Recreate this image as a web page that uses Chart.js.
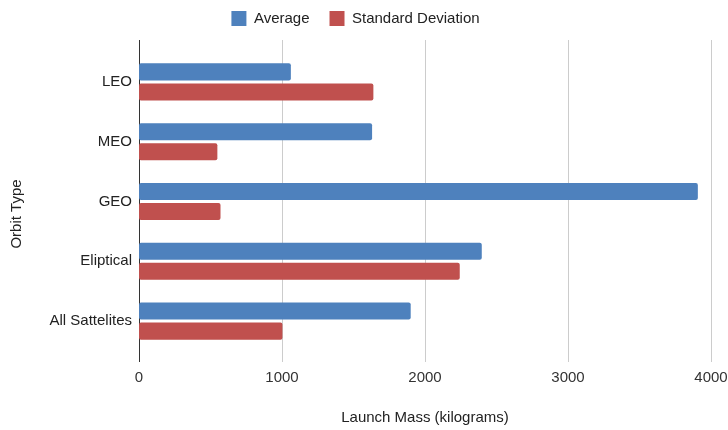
<!DOCTYPE html>
<html>
<head>
<meta charset="utf-8">
<script src="https://cdn.jsdelivr.net/npm/chart.js@4/dist/chart.umd.min.js"></script>
<style>
  html, body { margin: 0; padding: 0; background: #ffffff; }
  #wrap { width: 728px; height: 430px; }
</style>
</head>
<body>
<div id="wrap"><canvas id="chart" width="728" height="430"></canvas></div>
<script>
// Launch mass statistics by orbit type (kilograms)
const orbitTypes = ['LEO', 'MEO', 'GEO', 'Eliptical', 'All Sattelites'];
const averageMass = [1062, 1630, 3908, 2397, 1900];
const stdDeviation = [1639, 548, 570, 2243, 1003];
const massTicks = [0, 1000, 2000, 3000, 4000];
const categoryAxisTitle = 'Orbit Type';

const FONT = '"Liberation Sans", Arial, sans-serif';

// Keeps a fixed gap between the legend row and the plot
const legendSpacing = {
  id: 'legendSpacing',
  beforeLayout(chart) {
    const lg = chart.legend;
    if (lg && !lg._fixedFit) {
      const baseFit = lg.fit.bind(lg);
      lg.fit = function () { baseFit(); this.height = 61; };
      lg._fixedFit = true;
    }
  }
};

// Vertical gridlines that run a little past the category band
const extendedGrid = {
  id: 'extendedGrid',
  beforeDatasetsDraw(chart) {
    const { ctx, chartArea, scales } = chart;
    const x = scales.x;
    const top = chartArea.top - 12;
    const bottom = chartArea.bottom + 11;
    ctx.save();
    x.ticks.forEach(t => {
      const px = Math.round(x.getPixelForValue(t.value)) + 0.5;
      ctx.beginPath();
      ctx.strokeStyle = t.value === 0 ? '#333333' : '#cccccc';
      ctx.lineWidth = 1;
      ctx.moveTo(px, top);
      ctx.lineTo(px, bottom);
      ctx.stroke();
    });
    ctx.restore();
  }
};

// Rotated title for the category axis, centred between plot top and value labels
const categoryTitle = {
  id: 'categoryTitle',
  afterDraw(chart) {
    const { ctx, chartArea } = chart;
    const cy = (chartArea.top + chartArea.bottom + 25) / 2;
    ctx.save();
    ctx.translate(17, cy);
    ctx.rotate(-Math.PI / 2);
    ctx.font = '15px ' + FONT;
    ctx.fillStyle = '#222222';
    ctx.textAlign = 'center';
    ctx.textBaseline = 'middle';
    ctx.fillText(categoryAxisTitle, 0, 0);
    ctx.restore();
  }
};

new Chart(document.getElementById('chart'), {
  type: 'bar',
  data: {
    labels: orbitTypes,
    datasets: [
      {
        label: 'Average',
        data: averageMass,
        backgroundColor: '#4e81bd',
        borderRadius: 2,
        borderSkipped: false,
        categoryPercentage: 0.67,
        barPercentage: 0.85
      },
      {
        label: 'Standard Deviation',
        data: stdDeviation,
        backgroundColor: '#c0504e',
        borderRadius: 2,
        borderSkipped: false,
        categoryPercentage: 0.67,
        barPercentage: 0.85
      }
    ]
  },
  options: {
    indexAxis: 'y',
    responsive: false,
    animation: false,
    layout: { padding: { top: -9, right: 17, bottom: 0, left: 0 } },
    plugins: {
      legend: {
        position: 'top',
        labels: {
          boxWidth: 15,
          boxHeight: 15,
          padding: 20,
          color: '#222222',
          font: { family: FONT, size: 15 }
        }
      },
      tooltip: { enabled: false }
    },
    scales: {
      x: {
        min: 0,
        max: 4000,
        afterBuildTicks(scale) { scale.ticks = massTicks.map(v => ({ value: v })); },
        afterFit(scale) {
          scale.height = 79;
          scale.paddingLeft = 0;
          scale.paddingRight = 0;
        },
        grid: { display: false, drawTicks: false },
        border: { display: false },
        ticks: {
          padding: 18,
          color: '#333333',
          font: { family: FONT, size: 15 },
          callback: v => String(v)
        },
        title: {
          display: true,
          text: 'Launch Mass (kilograms)',
          color: '#222222',
          padding: { top: 0, bottom: 3 },
          font: { family: FONT, size: 15 }
        }
      },
      y: {
        afterFit(scale) { scale.width = 139; },
        grid: { display: false, drawTicks: false },
        border: { display: false },
        ticks: {
          padding: 7,
          color: '#222222',
          font: { family: FONT, size: 15 }
        }
      }
    }
  },
  plugins: [legendSpacing, extendedGrid, categoryTitle]
});
</script>
</body>
</html>
